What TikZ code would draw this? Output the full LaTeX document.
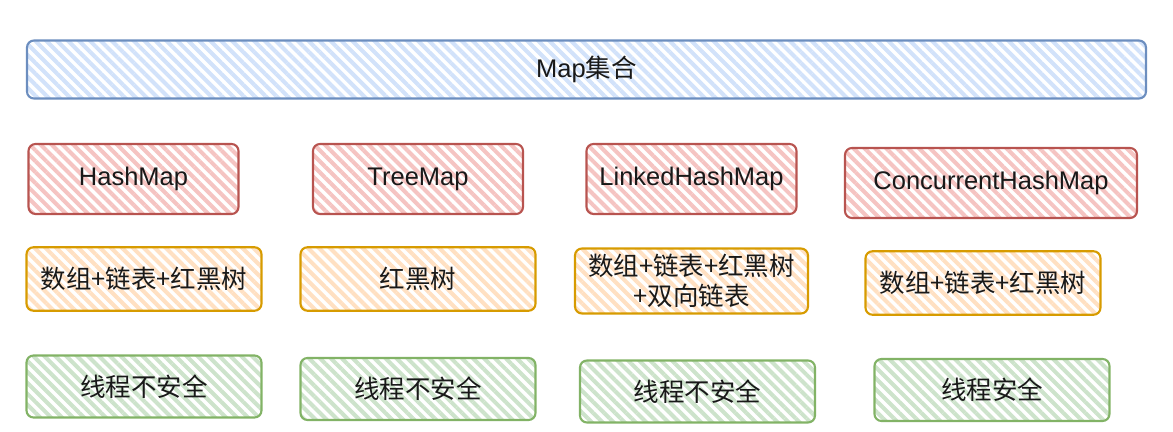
\documentclass[tikz,border=0pt]{standalone}
\usepackage{fontspec}
\setmainfont{Liberation Sans}
\newfontfamily\cjk{Noto Sans CJK SC}
\usepackage{tikz}
\usetikzlibrary{patterns.meta}

\definecolor{bluefill}{HTML}{D2E2FA}
\definecolor{bluedraw}{HTML}{6C8EBF}
\definecolor{redfill}{HTML}{F5C4C2}
\definecolor{reddraw}{HTML}{B85450}
\definecolor{orangefill}{HTML}{FFE0C2}
\definecolor{orangedraw}{HTML}{D79B00}
\definecolor{greenfill}{HTML}{CDE3CB}
\definecolor{greendraw}{HTML}{82B366}

\begin{document}
\begin{tikzpicture}[node distance=2cm, auto]
\tikzstyle{hatchbox} = [rectangle, rounded corners=4pt, line width=1.2pt, inner sep=0pt,
                        pattern={Lines[angle=-45, distance=4.4pt, line width=2.3pt]},
                        font=\fontsize{14.5}{17}\selectfont, text=black!90, align=center]
\tikzstyle{mapbox} = [hatchbox, draw=bluedraw, pattern color=bluefill,
                      minimum width=22.38cm, minimum height=1.16cm]
\tikzstyle{classbox} = [hatchbox, draw=reddraw, pattern color=redfill,
                        minimum width=4.2cm, minimum height=1.4cm]
\tikzstyle{structbox} = [hatchbox, draw=orangedraw, pattern color=orangefill,
                         minimum width=4.7cm, minimum height=1.27cm]
\tikzstyle{safebox} = [hatchbox, draw=greendraw, pattern color=greenfill,
                       minimum width=4.7cm, minimum height=1.24cm]

\useasboundingbox (0,0) rectangle (23.46,-8.64);

\node[mapbox] (map) at (11.73,-1.39) {Map{\cjk 集合}};

% implementations
\node[classbox, below of=map, xshift=-9.06cm, yshift=-0.19cm] (hashmap) {HashMap};
\node[classbox, right of=hashmap, xshift=3.69cm] (treemap) {TreeMap};
\node[classbox, right of=treemap, xshift=3.47cm] (linkedmap) {LinkedHashMap};
\node[classbox, right of=linkedmap, xshift=3.99cm, yshift=-0.08cm,
      minimum width=5.84cm] (concmap) {ConcurrentHashMap};

% data structures
\node[structbox, below of=hashmap, xshift=0.21cm] (hashdata) {\cjk 数组+链表+红黑树};
\node[structbox, below of=treemap] (treedata) {\cjk 红黑树};
\node[structbox, below of=linkedmap, yshift=-0.04cm, minimum width=4.66cm,
      minimum height=1.3cm] (linkeddata) {{\cjk 数组+链表+红黑树}\\{\cjk +双向链表}};
\node[structbox, below of=concmap, xshift=-0.16cm] (concdata) {\cjk 数组+链表+红黑树};

% thread safety
\node[safebox, below of=hashdata, yshift=-0.15cm] (hashsafe) {\cjk 线程不安全};
\node[safebox, below of=treedata, yshift=-0.2cm] (treesafe) {\cjk 线程不安全};
\node[safebox, below of=linkeddata, xshift=0.12cm, yshift=-0.21cm] (linkedsafe) {\cjk 线程不安全};
\node[safebox, below of=concdata, xshift=0.18cm, yshift=-0.14cm] (concsafe) {\cjk 线程安全};
\end{tikzpicture}
\end{document}
